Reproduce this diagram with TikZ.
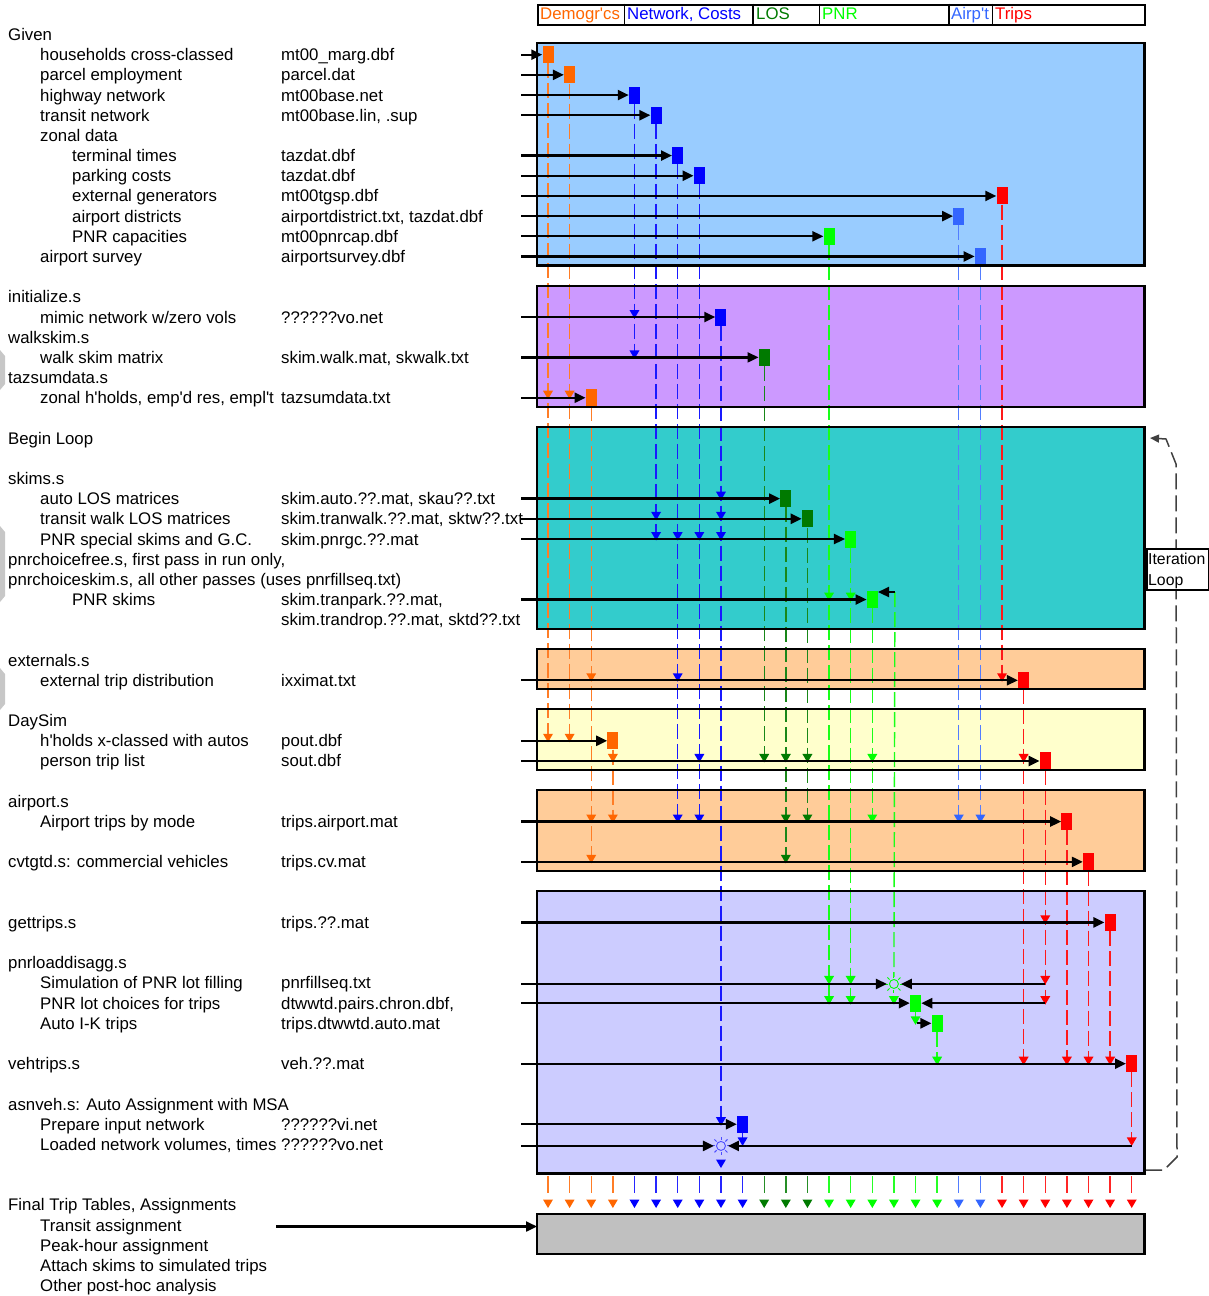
\documentclass[tikz,border=0pt]{standalone}
\usepackage{fontspec}
\setmainfont{Liberation Sans}[Ligatures=TeXOff]
\usetikzlibrary{arrows.meta}
\definecolor{cOr}{HTML}{FF6600}
\definecolor{cBl}{HTML}{0000FF}
\definecolor{cDg}{HTML}{007A00}
\definecolor{cGr}{HTML}{00FF00}
\definecolor{cLb}{HTML}{3366FF}
\definecolor{cRd}{HTML}{FF0000}
\colorlet{cOrL}{cOr!85!white}
\colorlet{cBlL}{cBl!90!white}
\colorlet{cDgL}{cDg!90!white}
\colorlet{cGrL}{cGr!90!white}
\colorlet{cLbL}{cLb!85!white}
\colorlet{cRdL}{cRd!90!white}
\definecolor{bxA}{HTML}{99CCFF}
\definecolor{bxB}{HTML}{CC99FF}
\definecolor{bxC}{HTML}{33CCCC}
\definecolor{bxD}{HTML}{FFCC99}
\definecolor{bxE}{HTML}{FFFFCC}
\definecolor{bxF}{HTML}{CCCCFF}
\definecolor{bxG}{HTML}{C0C0C0}
\newcommand{\Lt}[4]{\node[txt] (#1) at (#2,{34+20.18*#3+6.5}) {#4};}
\newcommand{\Pb}[4]{\node[pbox,fill=#4] (#1) at ({548+21.62*#2},{34+20.18*#3+0.5}) {};}
\newcommand{\Tri}[3]{\fill[#3] ({548+21.62*#1-5},{34+20.18*#2-6.5}) -- ++(10,0) -- ++(-5,8.5) -- cycle;}
\newcommand{\Col}[4]{\draw[dl,draw=#4] (#2.south) -- ({548+21.62*#1},{34+20.18*#3-3});}
\newcommand{\Ar}[2]{\coordinate (a#1) at (521,{34+20.18*#1+0.5}); \draw[inarr] (a#1) -- (#2.west);}
\begin{document}
\begin{tikzpicture}[x=1pt,y=-1pt,
  txt/.style={anchor=base west,inner sep=0pt,font=\fontsize{16.8}{20}\selectfont},
  pbox/.style={rectangle,inner sep=0pt,minimum width=11pt,minimum height=17pt,draw=none},
  bigbox/.style={rectangle,inner sep=0pt,minimum width=607pt,anchor=north west,draw=none},
  bord/.style={draw=black,line width=2.2pt},
  dl/.style={line width=1.4pt,dash pattern=on 15pt off 5pt},
  inarr/.style={draw=black,line width=2.3pt,-{Triangle[length=11pt,width=10pt]}},
  sunnode/.style={circle,inner sep=0pt,minimum size=9pt,outer sep=2.5pt,line width=0.9pt},
]
\useasboundingbox (0,0) rectangle (1209,1296);
% left edge artefacts
\fill[black!22] (0,350) -- (5,356) -- (5,384) -- (0,390) -- cycle;
\fill[black!22] (0,526) -- (5,532) -- (5,596) -- (0,602) -- cycle;
\fill[black!22] (0,668) -- (5,674) -- (5,704) -- (0,710) -- cycle;
% legend
\node[draw,line width=2pt,inner sep=0pt,minimum width=607pt,minimum height=20.5pt,anchor=north west] (leg) at (537,3.5) {};
\foreach \xx in {624.5,753.1,819.4,949.2,992.4}{\draw[line width=1.5pt] (\xx,3.5) -- (\xx,24);}
\node[txt,text=cOr] (lg1) at (540,19.5) {Demogr'cs};
\node[txt,text=cBl] (lg2) at (627,19.5) {Network, Costs};
\node[txt,text=cDg] (lg3) at (756,19.5) {LOS};
\node[txt,text=cGr] (lg4) at (822,19.5) {PNR};
\node[txt,text=cLb] (lg5) at (951,19.5) {Airp't};
\node[txt,text=cRd] (lg6) at (995,19.5) {Trips};
% big boxes (fills)
\node[bigbox,fill=bxA,minimum height=221.8pt] (bxA) at (537,43.2) {};
\node[bigbox,fill=bxB,minimum height=119.9pt] (bxB) at (537,286.3) {};
\node[bigbox,fill=bxC,minimum height=201.6pt] (bxC) at (537,426.6) {};
\node[bigbox,fill=bxD,minimum height=40.2pt] (bxD) at (537,648.6) {};
\node[bigbox,fill=bxE,minimum height=60.4pt] (bxE) at (537,709.1) {};
\node[bigbox,fill=bxD,minimum height=80.6pt] (bxH) at (537,789.8) {};
\node[bigbox,fill=bxF,minimum height=282.4pt] (bxF) at (537,890.7) {};
\node[bigbox,fill=bxG,minimum height=40.2pt] (bxG) at (537,1213.6) {};
% product boxes
\Pb{p0}{0}{1}{cOr} \Pb{p1}{1}{2}{cOr} \Pb{p2}{2}{18}{cOr} \Pb{p3}{3}{35}{cOr}
\Pb{p4}{4}{3}{cBl} \Pb{p5}{5}{4}{cBl} \Pb{p6}{6}{6}{cBl} \Pb{p7}{7}{7}{cBl}
\Pb{p8}{8}{14}{cBl} \Pb{p9}{9}{54}{cBl}
\Pb{p10}{10}{16}{cDg} \Pb{p11}{11}{23}{cDg} \Pb{p12}{12}{24}{cDg}
\Pb{p13}{13}{10}{cGr} \Pb{p14}{14}{25}{cGr} \Pb{p15}{15}{28}{cGr}
\Pb{p17}{17}{48}{cGr} \Pb{p18}{18}{49}{cGr}
\Pb{p19}{19}{9}{cLb} \Pb{p20}{20}{11}{cLb}
\Pb{p21}{21}{8}{cRd} \Pb{p22}{22}{32}{cRd} \Pb{p23}{23}{36}{cRd}
\Pb{p24}{24}{39}{cRd} \Pb{p25}{25}{41}{cRd} \Pb{p26}{26}{44}{cRd} \Pb{p27}{27}{51}{cRd}
% suns
\node[sunnode,draw=cBl!70!white] (s8) at ({548+21.62*8},{34+20.18*55+2}) {};
\node[sunnode,draw=cGr] (s16) at ({548+21.62*16},{34+20.18*47+1.5}) {};
\foreach \a in {0,45,...,315}{
  \draw[cBl!70!white,line width=0.9pt] (s8.center) ++(\a:6.2) -- ++(\a:3);
  \draw[cGr,line width=0.9pt] (s16.center) ++(\a:6.2) -- ++(\a:3);
}
\coordinate (k16) at ({548+21.62*16+1},592);
% column lines
\Col{0}{p0}{35}{cOrL} \Col{1}{p1}{35}{cOrL} \Col{2}{p2}{41}{cOrL} \Col{3}{p3}{39}{cOrL}
\Col{4}{p4}{16}{cBlL} \Col{5}{p5}{25}{cBlL} \Col{6}{p6}{39}{cBlL} \Col{7}{p7}{39}{cBlL}
\Col{8}{p8}{54}{cBlL} \Col{9}{p9}{55}{cBlL}
\Col{10}{p10}{36}{cDgL} \Col{11}{p11}{41}{cDgL} \Col{12}{p12}{39}{cDgL}
\Col{13}{p13}{48}{cGrL} \Col{14}{p14}{48}{cGrL} \Col{15}{p15}{39}{cGrL}
\draw[dl,draw=cGrL] (k16) -- (s16.north);
\Col{17}{p17}{49}{cGrL} \Col{18}{p18}{51}{cGrL}
\Col{19}{p19}{39}{cLbL} \Col{20}{p20}{39}{cLbL}
\Col{21}{p21}{32}{cRdL} \Col{22}{p22}{51}{cRdL} \Col{23}{p23}{48}{cRdL}
\Col{24}{p24}{51}{cRdL} \Col{25}{p25}{51}{cRdL} \Col{26}{p26}{51}{cRdL} \Col{27}{p27}{55}{cRdL}
% bottom feed into final
\foreach \i/\c in {0/cOr,1/cOr,2/cOr,3/cOr,4/cBl,5/cBl,6/cBl,7/cBl,8/cBl,9/cBl,10/cDg,11/cDg,12/cDg,13/cGr,14/cGr,15/cGr,16/cGr,17/cGr,18/cGr,19/cLb,20/cLb,21/cRd,22/cRd,23/cRd,24/cRd,25/cRd,26/cRd,27/cRd}{
  \draw[line width=1.4pt,draw=\c!85!white] ({548+21.62*\i},1176) -- ({548+21.62*\i},1193);
  \fill[\c] ({548+21.62*\i-5},1199.5) -- ++(10,0) -- ++(-5,8.5) -- cycle;
}
% iteration loop line
\coordinate (lp0) at (1146,1170);
\coordinate (lp1) at (1150,438);
\draw[draw=black!75,line width=1.5pt,dash pattern=on 16pt off 6pt,-{Triangle[length=9pt,width=8pt]}]
  (lp0) -- (1164,1170) -- (1177,1157) -- (1176,464) -- (1166,439) -- (lp1);
% box borders
\foreach \b in {bxA,bxB,bxC,bxD,bxE,bxH,bxF,bxG}{\draw[bord] (\b.north west) rectangle (\b.south east);}
% triangles
\Tri{0}{18}{cOr} \Tri{0}{35}{cOr} \Tri{1}{18}{cOr} \Tri{1}{35}{cOr}
\Tri{2}{32}{cOr} \Tri{2}{39}{cOr} \Tri{2}{41}{cOr} \Tri{3}{36}{cOr} \Tri{3}{39}{cOr}
\Tri{4}{14}{cBl} \Tri{4}{16}{cBl} \Tri{5}{24}{cBl} \Tri{5}{25}{cBl}
\Tri{6}{25}{cBl} \Tri{6}{32}{cBl} \Tri{6}{39}{cBl}
\Tri{7}{25}{cBl} \Tri{7}{36}{cBl} \Tri{7}{39}{cBl}
\Tri{8}{23}{cBl} \Tri{8}{24}{cBl} \Tri{8}{25}{cBl} \Tri{8}{54}{cBl} \Tri{9}{55}{cBl}
\fill[cBl] ({548+21.62*8-5},1159.5) -- ++(10,0) -- ++(-5,8.5) -- cycle;
\Tri{10}{36}{cDg} \Tri{11}{36}{cDg} \Tri{11}{39}{cDg} \Tri{11}{41}{cDg}
\Tri{12}{36}{cDg} \Tri{12}{39}{cDg}
\Tri{13}{28}{cGr} \Tri{13}{47}{cGr} \Tri{13}{48}{cGr}
\Tri{14}{28}{cGr} \Tri{14}{47}{cGr} \Tri{14}{48}{cGr}
\Tri{15}{36}{cGr} \Tri{15}{39}{cGr} \Tri{16}{48}{cGr} \Tri{17}{49}{cGr} \Tri{18}{51}{cGr}
\Tri{19}{39}{cLb} \Tri{20}{39}{cLb}
\Tri{21}{32}{cRd} \Tri{22}{36}{cRd} \Tri{22}{51}{cRd}
\Tri{23}{44}{cRd} \Tri{23}{47}{cRd} \Tri{23}{48}{cRd}
\Tri{24}{51}{cRd} \Tri{25}{51}{cRd} \Tri{26}{51}{cRd} \Tri{27}{55}{cRd}
% input arrows
\Ar{1}{p0} \Ar{2}{p1} \Ar{3}{p4} \Ar{4}{p5} \Ar{6}{p6} \Ar{7}{p7} \Ar{8}{p21}
\Ar{9}{p19} \Ar{10}{p13} \Ar{11}{p20} \Ar{14}{p8} \Ar{16}{p10} \Ar{18}{p2}
\Ar{23}{p11} \Ar{24}{p12} \Ar{25}{p14} \Ar{28}{p15} \Ar{32}{p22}
\Ar{35}{p3} \Ar{36}{p23} \Ar{39}{p24} \Ar{41}{p25} \Ar{44}{p26}
\Ar{48}{p17} \Ar{51}{p27} \Ar{54}{p9}
\coordinate (a47) at (521,{34+20.18*47+1.5});
\draw[inarr] (a47) -- (s16.west);
\coordinate (r47) at ({548+21.62*23},{34+20.18*47+1.5});
\draw[inarr] (r47) -- (s16.east);
\coordinate (r48) at ({548+21.62*23},{34+20.18*48+0.5});
\draw[inarr] (r48) -- (p17.east);
\coordinate (c49) at ({548+21.62*17+1},{34+20.18*49+0.5});
\draw[inarr] (c49) -- (p18.west);
\coordinate (a55) at (521,{34+20.18*55+2});
\draw[inarr] (a55) -- (s8.west);
\coordinate (r55) at ({548+21.62*27},{34+20.18*55+2});
\draw[inarr] (r55) -- (s8.east);
\draw[inarr] (k16) -- (k16 -| p15.east);
\coordinate (a59) at (276,1226.5);
\draw[inarr] (a59) -- (a59 -| bxG.west);
% iteration loop label
\node[draw,fill=white,line width=1.5pt,inner sep=0pt,minimum width=62pt,minimum height=41pt,anchor=north west] (itl) at (1146,548) {};
\node[txt,font=\fontsize{15.8}{19}\selectfont] (it1) at (1148,564) {Iteration};
\node[txt,font=\fontsize{15.8}{19}\selectfont] (it2) at (1148,585) {Loop};
% texts
\Lt{g0}{8}{0}{Given}
\Lt{g1}{40}{1}{households cross-classed} \Lt{f1}{281}{1}{mt00\_marg.dbf}
\Lt{g2}{40}{2}{parcel employment} \Lt{f2}{281}{2}{parcel.dat}
\Lt{g3}{40}{3}{highway network} \Lt{f3}{281}{3}{mt00base.net}
\Lt{g4}{40}{4}{transit network} \Lt{f4}{281}{4}{mt00base.lin, .sup}
\Lt{g5}{40}{5}{zonal data}
\Lt{g6}{72}{6}{terminal times} \Lt{f6}{281}{6}{tazdat.dbf}
\Lt{g7}{72}{7}{parking costs} \Lt{f7}{281}{7}{tazdat.dbf}
\Lt{g8}{72}{8}{external generators} \Lt{f8}{281}{8}{mt00tgsp.dbf}
\Lt{g9}{72}{9}{airport districts} \Lt{f9}{281}{9}{airportdistrict.txt, tazdat.dbf}
\Lt{g10}{72}{10}{PNR capacities} \Lt{f10}{281}{10}{mt00pnrcap.dbf}
\Lt{g11}{40}{11}{airport survey} \Lt{f11}{281}{11}{airportsurvey.dbf}
\Lt{g13}{8}{13}{initialize.s}
\Lt{g14}{40}{14}{mimic network w/zero vols} \Lt{f14}{281}{14}{??????vo.net}
\Lt{g15}{8}{15}{walkskim.s}
\Lt{g16}{40}{16}{walk skim matrix} \Lt{f16}{281}{16}{skim.walk.mat, skwalk.txt}
\Lt{g17}{8}{17}{tazsumdata.s}
\Lt{g18}{40}{18}{zonal h'holds, emp'd res, empl't} \Lt{f18}{281}{18}{tazsumdata.txt}
\Lt{g20}{8}{20}{Begin Loop}
\Lt{g22}{8}{22}{skims.s}
\Lt{g23}{40}{23}{auto LOS matrices} \Lt{f23}{281}{23}{skim.auto.??.mat, skau??.txt}
\Lt{g24}{40}{24}{transit walk LOS matrices} \Lt{f24}{281}{24}{skim.tranwalk.??.mat, sktw??.txt}
\Lt{g25}{40}{25}{PNR special skims and G.C.} \Lt{f25}{281}{25}{skim.pnrgc.??.mat}
\Lt{g26}{8}{26}{pnrchoicefree.s, first pass in run only,}
\Lt{g27}{8}{27}{pnrchoiceskim.s, all other passes (uses pnrfillseq.txt)}
\Lt{g28}{72}{28}{PNR skims} \Lt{f28}{281}{28}{skim.tranpark.??.mat,}
\Lt{f29}{281}{29}{skim.trandrop.??.mat, sktd??.txt}
\Lt{g31}{8}{31}{externals.s}
\Lt{g32}{40}{32}{external trip distribution} \Lt{f32}{281}{32}{ixximat.txt}
\Lt{g34}{8}{34}{DaySim}
\Lt{g35}{40}{35}{h'holds x-classed with autos} \Lt{f35}{281}{35}{pout.dbf}
\Lt{g36}{40}{36}{person trip list} \Lt{f36}{281}{36}{sout.dbf}
\Lt{g38}{8}{38}{airport.s}
\Lt{g39}{40}{39}{Airport trips by mode} \Lt{f39}{281}{39}{trips.airport.mat}
\Lt{g41}{8}{41}{cvtgtd.s: commercial vehicles} \Lt{f41}{281}{41}{trips.cv.mat}
\Lt{g44}{8}{44}{gettrips.s} \Lt{f44}{281}{44}{trips.??.mat}
\Lt{g46}{8}{46}{pnrloaddisagg.s}
\Lt{g47}{40}{47}{Simulation of PNR lot filling} \Lt{f47}{281}{47}{pnrfillseq.txt}
\Lt{g48}{40}{48}{PNR lot choices for trips} \Lt{f48}{281}{48}{dtwwtd.pairs.chron.dbf,}
\Lt{g49}{40}{49}{Auto I-K trips} \Lt{f49}{281}{49}{trips.dtwwtd.auto.mat}
\Lt{g51}{8}{51}{vehtrips.s} \Lt{f51}{281}{51}{veh.??.mat}
\Lt{g53}{8}{53}{asnveh.s: Auto Assignment with MSA}
\Lt{g54}{40}{54}{Prepare input network} \Lt{f54}{281}{54}{??????vi.net}
\Lt{g55}{40}{55}{Loaded network volumes, times} \Lt{f55}{281}{55}{??????vo.net}
\Lt{g58}{8}{58}{Final Trip Tables, Assignments}
\Lt{g59}{40}{59}{Transit assignment}
\Lt{g60}{40}{60}{Peak-hour assignment}
\Lt{g61}{40}{61}{Attach skims to simulated trips}
\Lt{g62}{40}{62}{Other post-hoc analysis}
\end{tikzpicture}
\end{document}
